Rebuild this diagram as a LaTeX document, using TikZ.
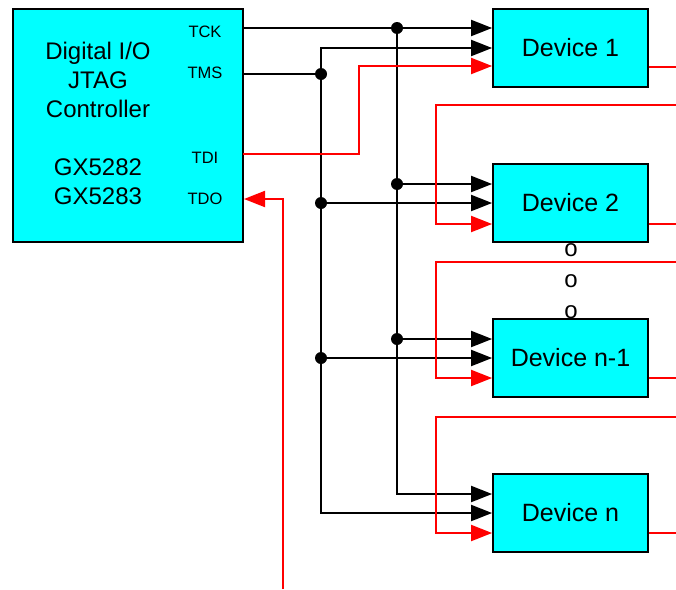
\documentclass[tikz,border=0pt]{standalone}
\usepackage{fontspec}
\setmainfont{Liberation Sans}
\usetikzlibrary{arrows.meta}
\definecolor{boxcyan}{RGB}{0,255,255}
\definecolor{wirered}{RGB}{255,0,0}
\begin{document}
\begin{tikzpicture}[x=1pt,y=-1pt,
  boxst/.style={draw=black, line width=1.8pt, fill=boxcyan, inner sep=0pt},
  devbox/.style={boxst, minimum width=155pt, minimum height=78pt, font=\fontsize{25}{29}\selectfont},
  wire/.style={draw=black, line width=2pt},
  rwire/.style={draw=wirered, line width=2pt},
  tipb/.style={-{Triangle[length=21pt,width=16pt]}},
  tipbb/.style={{Triangle[length=21pt,width=16pt]}-{Triangle[length=21pt,width=16pt]}},
  pinlbl/.style={font=\fontsize{16.5}{18}\selectfont, inner sep=0pt},
  bigtxt/.style={font=\fontsize{24}{29}\selectfont, align=center, inner sep=0pt},
  dotst/.style={fill=black}
]
\useasboundingbox (0,0) rectangle (676,589);

% controller
\node[boxst, minimum width=230pt, minimum height=233pt] (ctrl) at (128,125.5) {};
\node[bigtxt] (title) at (98,80) {Digital I/O\\JTAG\\Controller};
\node[bigtxt] (model) at (98,182) {GX5282\\GX5283};
\node[pinlbl] (ltck) at (205,32) {TCK};
\node[pinlbl] (ltms) at (205,73) {TMS};
\node[pinlbl] (ltdi) at (205,158) {TDI};
\node[pinlbl] (ltdo) at (205,199) {TDO};

% devices
\node[devbox] (d1) at (570.5,48) {Device 1};
\node[devbox] (d2) at (570.5,203) {Device 2};
\node[devbox] (dn1) at (570.5,358) {Device n-1};
\node[devbox] (dn) at (570.5,513) {Device n};

\node[bigtxt] (o1) at (571,250) {o};
\node[bigtxt] (o2) at (571,281) {o};
\node[bigtxt] (o3) at (571,312) {o};

% pins
\coordinate (tck) at (243,28);
\coordinate (tms) at (243,74);
\coordinate (tdi) at (243,154);
\coordinate (tdo) at (244,199);
\coordinate (tdoend) at (283,589);
\coordinate (tdocorner) at (283,199);

% TCK bus
\coordinate (c1) at (397,28);
\coordinate (c2) at (397,184);
\coordinate (c3) at (397,339);
\coordinate (c4) at (397,494);
% TMS bus
\coordinate (m0) at (321,48);
\coordinate (m1) at (321,74);
\coordinate (m2) at (321,203);
\coordinate (m3) at (321,358);
\coordinate (m4) at (321,513);

% TCK
\draw[wire,tipb] (tck) -- (c1 -| d1.west);
\draw[wire,tipb] (c1) -- (c4) -- (c4 -| dn.west);
\draw[wire,tipb] (c2) -- (c2 -| d2.west);
\draw[wire,tipb] (c3) -- (c3 -| dn1.west);
% TMS
\draw[wire] (tms) -- (m1);
\draw[wire,tipbb] (m0 -| d1.west) -- (m0) -- (m4) -- (m4 -| dn.west);
\draw[wire,tipb] (m2) -- (m2 -| d2.west);
\draw[wire,tipb] (m3) -- (m3 -| dn1.west);

\foreach \p in {c1,c2,c3,m1,m2,m3} \fill[dotst] (\p) circle (6pt);

% TDI chain
\coordinate (r1) at (359,66);
\draw[rwire,tipb] (tdi) -| (r1) -- (r1 -| d1.west);

\coordinate (e1) at (676,67);
\coordinate (e2) at (676,224);
\coordinate (e3) at (676,378);
\coordinate (e4) at (676,533);
\draw[rwire] (d1.east |- e1) -- (e1);
\draw[rwire] (d2.east |- e2) -- (e2);
\draw[rwire] (dn1.east |- e3) -- (e3);
\draw[rwire] (dn.east |- e4) -- (e4);

\coordinate (f2) at (676,105);
\coordinate (f3) at (676,262);
\coordinate (f4) at (676,417);
\coordinate (p2) at (436,224);
\coordinate (p3) at (436,378);
\coordinate (p4) at (436,533);
\draw[rwire,tipb] (f2) -| (p2) -- (p2 -| d2.west);
\draw[rwire,tipb] (f3) -| (p3) -- (p3 -| dn1.west);
\draw[rwire,tipb] (f4) -| (p4) -- (p4 -| dn.west);

% TDO return
\draw[rwire,tipb] (tdoend) -- (tdocorner) -- (tdo);
\end{tikzpicture}
\end{document}
